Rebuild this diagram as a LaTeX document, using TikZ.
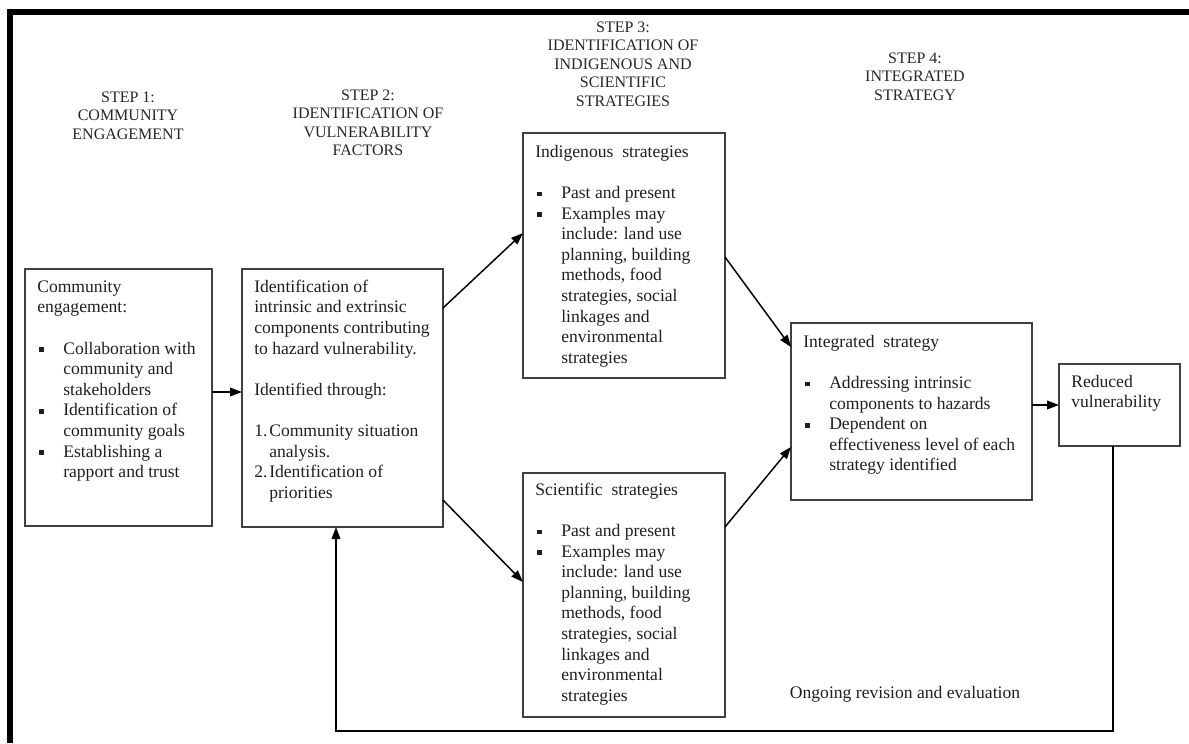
\documentclass[tikz,border=0pt]{standalone}
\usepackage{fontspec}
\setmainfont{Liberation Serif}
\usetikzlibrary{arrows.meta,calc}

% layout helpers for the box texts
\newcommand{\lnstart}{\rule{0pt}{10pt}}
\newcommand{\bul}{\makebox[19.5pt][l]{\hspace{1.2pt}\rule[1.6pt]{3.6pt}{3.6pt}}}
\newcommand{\ind}{\hspace*{19.5pt}}
\newcommand{\numlbl}[1]{\makebox[11.25pt][l]{#1}}
\newcommand{\nind}{\hspace*{11.25pt}}
\newcommand{\bodyfont}{\fontsize{13.2}{15.45}\selectfont}
\newcommand{\headfont}{\fontsize{12}{13.9}\selectfont}

\begin{document}
\begin{tikzpicture}[x=0.75pt,y=-0.75pt,
  box/.style={draw=black!75, line width=1.3pt, inner sep=0pt, outer sep=0pt, anchor=north west},
  txt/.style={anchor=north west, inner sep=0pt, align=left, font=\bodyfont, text=black!88},
  head/.style={anchor=north, inner sep=0pt, align=center, font=\headfont, text=black!85},
  arr/.style={draw=black, line width=1.1pt, -{Triangle[length=9pt,width=6.5pt]}}]

\useasboundingbox (0,0) rectangle (1189,743);

% outer frame (top and left edges)
\draw[line width=4.5pt] (10,743) -- (10,12) -- (1189,12);

% step headings
\node[head] (h1) at (128,90) {\rule{0pt}{9pt}STEP 1:\\COMMUNITY\\ENGAGEMENT};
\node[head] (h2) at (368,88) {\rule{0pt}{9pt}STEP 2:\\IDENTIFICATION OF\\VULNERABILITY\\FACTORS};
\node[head] (h3) at (623,20) {\rule{0pt}{9pt}STEP 3:\\IDENTIFICATION OF\\INDIGENOUS AND\\SCIENTIFIC\\STRATEGIES};
\node[head] (h4) at (915,51) {\rule{0pt}{9pt}STEP 4:\\INTEGRATED\\STRATEGY};

% boxes
\node[box, minimum width=140.25pt, minimum height=192.75pt] (b1) at (25,269) {};
\node[box, minimum width=150.75pt, minimum height=193.5pt] (b2) at (242,269) {};
\node[box, minimum width=151.5pt, minimum height=183.75pt] (ind) at (523,133) {};
\node[box, minimum width=151.5pt, minimum height=183pt] (sci) at (523,473) {};
\node[box, minimum width=180.75pt, minimum height=132.75pt] (integ) at (791,323) {};
\node[box, minimum width=90.75pt, minimum height=61.5pt] (red) at (1059,364) {};

% box texts
\node[txt] (t1) at (37,278.7) {\lnstart Community\\engagement:\\[15.45pt]
  \bul Collaboration with\\\ind community and\\\ind stakeholders\\
  \bul Identification of\\\ind community goals\\
  \bul Establishing a\\\ind rapport and trust};

\node[txt] (t2) at (254,278.7) {\lnstart Identification of\\intrinsic and extrinsic\\components contributing\\to hazard vulnerability.\\[15.45pt]
  Identified through:\\[15.45pt]
  \numlbl{1.}Community situation\\\nind analysis.\\
  \numlbl{2.}Identification of\\\nind priorities};

\node[txt] (t3) at (535,143.7) {\lnstart Indigenous\ \ strategies\\[15.45pt]
  \bul Past and present\\
  \bul Examples may\\\ind include: land use\\\ind planning, building\\\ind methods, food\\\ind strategies, social\\\ind linkages and\\\ind environmental\\\ind strategies};

\node[txt] (t4) at (535,481.7) {\lnstart Scientific\ \ strategies\\[15.45pt]
  \bul Past and present\\
  \bul Examples may\\\ind include: land use\\\ind planning, building\\\ind methods, food\\\ind strategies, social\\\ind linkages and\\\ind environmental\\\ind strategies};

\node[txt] (t5) at (803,333.7) {\lnstart Integrated\ \ strategy\\[15.45pt]
  \bul Addressing intrinsic\\\ind components to hazards\\
  \bul Dependent on\\\ind effectiveness level of each\\\ind strategy identified};

\node[txt] (t6) at (1071,373.7) {\lnstart Reduced\\vulnerability};

\node[anchor=base, inner sep=0pt, font=\bodyfont, text=black!88] (loopnote) at (905,698) {Ongoing revision and evaluation};

% connectors
\draw[arr] ($(b1.north east)+(0,123)$) -- ($(b2.north west)+(0,123)$);
\draw[arr] ($(b2.north east)+(0,39)$) -- ($(ind.north west)+(0,100)$);
\draw[arr] ($(b2.north east)+(0,231)$) -- ($(sci.north west)+(0,109)$);
\draw[arr] ($(ind.north east)+(0,124)$) -- ($(integ.north west)+(0,24)$);
\draw[arr] ($(sci.north east)+(0,54)$) -- ($(integ.north west)+(0,124)$);
\draw[arr] (red.west -| integ.east) -- (red.west);

% feedback loop
\coordinate (lr) at (1113,731);
\coordinate (ll) at (336,731);
\draw[arr] (red.south -| lr) -- (lr) -- (ll) -- (ll |- b2.south);

\end{tikzpicture}
\end{document}
